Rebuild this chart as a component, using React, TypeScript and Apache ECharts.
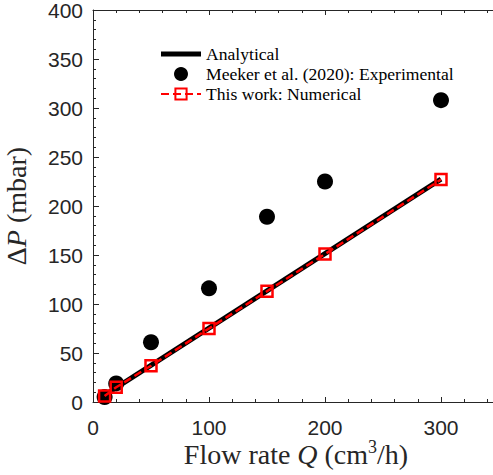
import React, { useEffect, useRef } from "react";
import * as echarts from "echarts";

const flowRates = [10, 20, 50, 100, 150, 200, 300];
const experimentalDP = [5, 19, 61, 116, 189, 225, 308];
const numericalDP = [6, 15, 37, 75, 113, 151, 227];
const analyticalQ = [10, 300];
const analyticalDP = [7, 227.5];
const xTickLabels = [0, 100, 200, 300];
const yTickStep = 50;

const serif = "Liberation Serif";
const sans = "Liberation Sans";
const axisColor = "#262626";

export default function App() {
  const ref = useRef<HTMLDivElement>(null);
  useEffect(() => {
    if (!ref.current) return;
    const chart = echarts.init(ref.current, null, { renderer: "svg" });
    const xBase = {
      type: "value",
      min: 0,
      max: 350,
      splitLine: { show: false },
      gridIndex: 0,
    };
    chart.setOption({
      animation: false,
      backgroundColor: "#ffffff",
      grid: { left: 93, top: 10, right: -6, bottom: 73, outerBoundsMode: "none", containLabel: false },
      legend: {
        orient: "vertical",
        left: 160,
        top: 45,
        padding: 0,
        itemWidth: 40,
        itemHeight: 14,
        itemGap: 2,
        textStyle: { fontFamily: serif, fontSize: 17.6, color: "#000" },
        data: [
          { name: "Analytical", icon: "path://M0,0L40,0L40,5L0,5Z" },
          { name: "Meeker et al. (2020): Experimental" },
          { name: "This work: Numerical" },
        ],
      },
      xAxis: [
        {
          ...xBase,
          position: "bottom",
          interval: 100,
          axisLine: { show: true, lineStyle: { color: axisColor, width: 1 } },
          axisTick: { show: true, inside: true, length: 5, lineStyle: { color: axisColor } },
          axisLabel: {
            fontFamily: sans,
            fontSize: 21,
            color: axisColor,
            margin: 15,
            formatter: (v: number) => (xTickLabels.includes(v) ? String(v) : ""),
          },
          name: "{r|Flow rate }{i|Q}{r| (cm}{s|3}{r|/h)}",
          nameLocation: "middle",
          nameGap: 36,
          nameMoveOverlap: false,
          nameTextStyle: {
            rich: {
              r: { fontFamily: serif, fontSize: 28, color: axisColor },
              i: { fontFamily: serif, fontSize: 28, fontStyle: "italic", color: axisColor },
              s: { fontFamily: serif, fontSize: 18, color: axisColor, verticalAlign: "top", padding: [0, 0, 14, 0] },
            },
          },
        },
        {
          ...xBase,
          position: "bottom",
          interval: 20,
          axisLine: { show: false },
          axisTick: { show: true, inside: true, length: 3, lineStyle: { color: axisColor } },
          axisLabel: { show: false },
        },
        {
          ...xBase,
          position: "top",
          interval: 100,
          axisLine: { show: true, lineStyle: { color: axisColor, width: 1 } },
          axisTick: { show: true, inside: true, length: 5, lineStyle: { color: axisColor } },
          axisLabel: { show: false },
        },
        {
          ...xBase,
          position: "top",
          interval: 20,
          axisLine: { show: false },
          axisTick: { show: true, inside: true, length: 3, lineStyle: { color: axisColor } },
          axisLabel: { show: false },
        },
      ],
      yAxis: [
        {
          type: "value",
          min: 0,
          max: 400,
          interval: yTickStep,
          position: "left",
          splitLine: { show: false },
          axisLine: { show: true, lineStyle: { color: axisColor, width: 1 } },
          axisTick: { show: true, inside: true, length: 6, lineStyle: { color: axisColor } },
          minorTick: { show: true, splitNumber: 5, length: 3, lineStyle: { color: axisColor } },
          axisLabel: { fontFamily: sans, fontSize: 21, color: axisColor, margin: 10 },
          name: "{r|Δ}{i|P}{r| (mbar)}",
          nameLocation: "middle",
          nameRotate: 90,
          nameGap: 63,
          nameTextStyle: {
            rich: {
              r: { fontFamily: serif, fontSize: 28, color: axisColor },
              i: { fontFamily: serif, fontSize: 28, fontStyle: "italic", color: axisColor },
            },
          },
        },
      ],
      series: [
        {
          name: "Analytical",
          type: "line",
          data: analyticalQ.map((q, i) => [q, analyticalDP[i]]),
          symbol: "none",
          lineStyle: { color: "#000", width: 5 },
          itemStyle: { color: "#000" },
          z: 2,
        },
        {
          name: "Meeker et al. (2020): Experimental",
          type: "scatter",
          data: flowRates.map((q, i) => [q, experimentalDP[i]]),
          symbol: "circle",
          symbolSize: 16,
          itemStyle: { color: "#000", opacity: 1 },
          z: 3,
        },
        {
          name: "This work: Numerical",
          type: "line",
          data: flowRates.map((q, i) => [q, numericalDP[i]]),
          symbol: "rect",
          symbolSize: 11,
          showAllSymbol: true,
          lineStyle: { color: "#ff0000", width: 2.5, type: [8, 4] },
          itemStyle: { color: "rgba(255,255,255,0)", borderColor: "#ff0000", borderWidth: 2.5 },
          z: 4,
        },
      ],
    });
    return () => chart.dispose();
  }, []);
  return (
    <div
      ref={ref}
      style={{ position: "absolute", left: 0, top: 0, width: 493, height: 475 }}
    />
  );
}
